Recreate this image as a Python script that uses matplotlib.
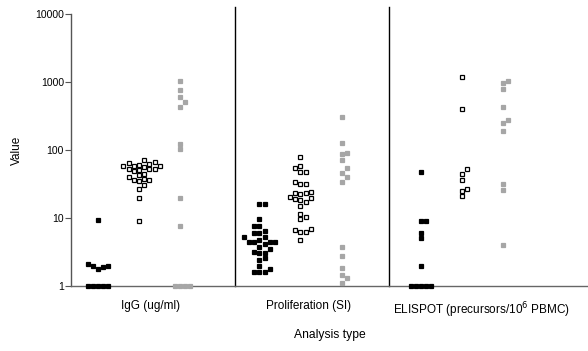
import matplotlib
matplotlib.use("Agg")
import matplotlib.pyplot as plt
import numpy as np

plt.rcParams['font.family'] = ['Liberation Sans', 'DejaVu Sans']

categories = ['IgG (ug/ml)', 'Proliferation (SI)', 'ELISPOT (precursors/10$^6$ PBMC)']

# values, per analysis type: black, open, gray groups
igg_black = [9.3, 2.0, 1.9, 1.8, 2.0, 2.1, 1, 1, 1, 1, 1]
igg_open = [71, 63, 65, 66, 61, 57, 59, 59, 58, 52, 52, 51, 49, 52, 43, 44,
            36, 37, 35, 36, 40, 31, 27, 19.5, 9.0]
igg_gray = [1020, 760, 610, 510, 435, 122, 102, 20, 7.6, 1, 1, 1, 1]

prolif_black = [15.9, 15.9, 9.6, 7.6, 7.6, 6.5, 6.1, 6.1, 5.2, 5.2, 4.5, 4.4, 4.5,
                4.7, 4.5, 4.2, 3.8, 3.1, 3.1, 3.2, 3.5, 2.6, 2.4, 1.97, 1.6, 1.6, 1.6, 1.8]
prolif_open = [78, 58, 54, 48, 48, 34, 32, 32, 24.4, 23, 23, 22.5, 20.5, 19, 20,
               18.4, 17.4, 15, 11.5, 9.6, 10.2, 6.8, 6.3, 6.3, 6.6, 4.7]
prolif_gray = [310, 128, 87, 91, 71, 46, 54, 40, 34, 3.8, 2.8, 1.82, 1.45, 1.3, 1.1]

elispot_black = [47, 9.1, 9.1, 6.1, 5.1, 2.0, 1, 1, 1, 1, 1]
elispot_open = [1170, 400, 52, 44, 36, 26.5, 25, 21]
elispot_gray = [960, 1050, 800, 425, 280, 246, 192, 32, 26, 4.0]

groups = [
    (igg_black, igg_open, igg_gray),
    (prolif_black, prolif_open, prolif_gray),
    (elispot_black, elispot_open, elispot_gray),
]

XMIN, XMAX = 0.579, 3.78
fig = plt.figure(figsize=(5.88, 3.51), dpi=100)
ax = fig.add_axes([0.1207, 0.185, 0.8793, 0.775])

# pixel scales, used only to keep the markers from overlapping
px_x = 0.8793 * 588 / (XMAX - XMIN)
px_dec = 0.775 * 351 / 4.0
MW = 5.2


def swarm_x(vals, center):
    ys = np.log10(np.asarray(vals, dtype=float)) * px_dec
    order = np.argsort(ys)
    placed = []
    xs = np.zeros(len(ys))
    for k in order:
        y = ys[k]
        for n in range(0, 40):
            off = ((n + 1) // 2) * MW * (1 if n % 2 else -1) if n else 0.0
            if all(abs(off - px) > MW - 0.2 or abs(y - py) > MW - 0.2
                   for px, py in placed):
                break
        placed.append((off, y))
        xs[k] = center + off / px_x
    return xs


styles = [
    dict(marker='s', color='black', mfc='black', mec='black'),
    dict(marker='s', color='black', mfc='white', mec='black'),
    dict(marker='s', color='#a6a6a6', mfc='#a6a6a6', mec='#a6a6a6'),
]

for i, grp in enumerate(groups):
    centre = i + 1
    for j, vals in enumerate(grp):
        xc = centre + (j - 1) * 0.254
        xs = swarm_x(vals, xc)
        ax.plot(xs, vals, linestyle='none', markersize=3.4, markeredgewidth=0.9,
                clip_on=False, zorder=3, **styles[j])

for xd in [1.594, 2.55]:
    ax.axvline(xd, ymin=0, ymax=1.025, color='black', lw=1.0, clip_on=False)

ax.set_yscale('log')
ax.set_ylim(1, 10000)
ax.set_xlim(XMIN, XMAX)
ax.set_yticks([1, 10, 100, 1000, 10000])
ax.set_yticklabels(['1', '10', '100', '1000', '10000'])
ax.minorticks_off()
ax.tick_params(axis='y', labelsize=7.5, length=4, width=0.8, color='#555555', pad=1)
ax.set_xticks([1.074, 2.05, 3.12])
ax.set_xticklabels(categories, fontsize=8.5)
ax.tick_params(axis='x', length=0, pad=10)

for s in ['top', 'right']:
    ax.spines[s].set_visible(False)
ax.spines['left'].set_color('#555555')
ax.spines['bottom'].set_color('#666666')
ax.spines['left'].set_linewidth(1.0)
ax.spines['bottom'].set_linewidth(1.0)

ax.set_ylabel('Value', fontsize=8.5, labelpad=9)
ax.set_xlabel('Analysis type', fontsize=8.7, labelpad=7)

fig.savefig('out.png', dpi=100)
